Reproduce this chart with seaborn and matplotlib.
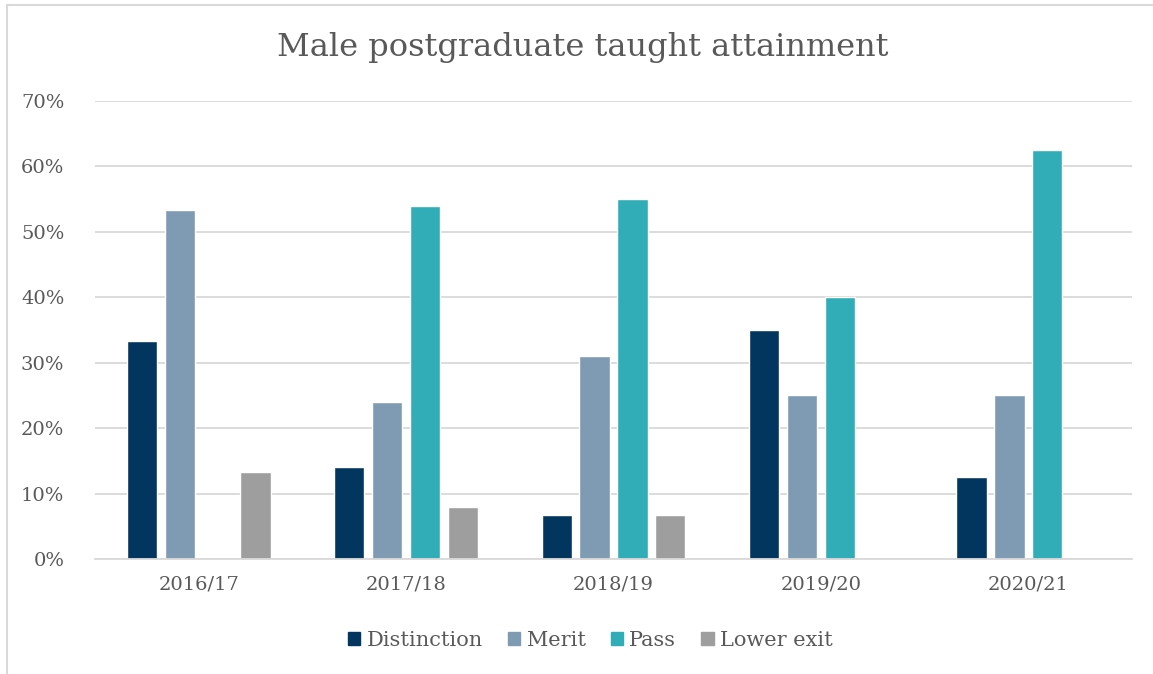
import matplotlib
matplotlib.use("Agg")
import matplotlib.pyplot as plt
import seaborn as sns
import pandas as pd
import numpy as np
from matplotlib.lines import Line2D
from matplotlib.ticker import PercentFormatter

# data (fractions)
years       = ["2016/17", "2017/18", "2018/19", "2019/20", "2020/21"]
grades      = ["Distinction", "Merit", "Pass", "Lower exit"]
distinction = [0.333, 0.140, 0.068, 0.350, 0.125]
merit       = [0.533, 0.240, 0.310, 0.250, 0.250]
passed      = [np.nan, 0.540, 0.551, 0.400, 0.625]
lower_exit  = [0.133, 0.080, 0.068, np.nan, np.nan]

colors = ["#03365f", "#7f9bb4", "#31adb8", "#9e9e9e"]
TEXT = "#595959"
GRID = "#d9d9d9"

df = pd.DataFrame({
    "year": years * 4,
    "grade": [g for g in grades for _ in years],
    "value": distinction + merit + passed + lower_exit,
})

sns.set_theme(style="white")
plt.rcParams["font.family"] = ["DejaVu Serif"]

fig = plt.figure(figsize=(11.53, 6.74), dpi=100)
ax = fig.add_axes([0.0824, 0.1706, 0.8994, 0.6795])

sns.barplot(data=df, x="year", y="value", hue="grade",
            hue_order=grades, order=years, palette=colors,
            width=0.73, gap=0.2, saturation=1, ax=ax)

ax.set_ylim(0, 0.7)
ax.set_xlim(-0.5, len(years) - 0.5)
ax.set_yticks(np.arange(0, 0.71, 0.1))
ax.yaxis.set_major_formatter(PercentFormatter(1.0, decimals=0))
ax.grid(axis="y", color=GRID, lw=1.3)
ax.set_axisbelow(True)
for s in ["top", "right", "left"]:
    ax.spines[s].set_visible(False)
ax.spines["bottom"].set_color(GRID)
ax.spines["bottom"].set_linewidth(1.3)
ax.set_xlabel("")
ax.set_ylabel("")
ax.tick_params(axis="both", length=0, labelsize=14, labelcolor=TEXT)
ax.tick_params(axis="x", pad=12)
ax.tick_params(axis="y", pad=22)

fig.text(0.505, 0.93, "Male postgraduate taught attainment",
         ha="center", va="center", fontsize=23, color=TEXT)

ax.legend_.remove()
handles = [plt.Rectangle((0, 0), 1, 1, color=c) for c in colors]
fig.legend(handles, grades, loc="center", bbox_to_anchor=(0.512, 0.05),
           ncol=4, frameon=False, fontsize=15, labelcolor=TEXT,
           handlelength=0.6, handleheight=0.6, handletextpad=0.3,
           columnspacing=1.2)

# chart border (top and left edges visible)
fig.add_artist(Line2D([0.006, 1.0], [0.993, 0.993], color=GRID, lw=1.5))
fig.add_artist(Line2D([0.006, 0.006], [0.0, 0.993], color=GRID, lw=1.5))

fig.savefig("out.png", dpi=100)
